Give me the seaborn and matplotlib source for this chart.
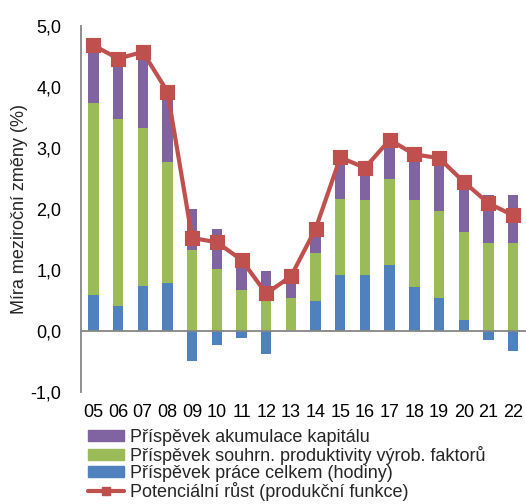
import matplotlib
matplotlib.use("Agg")
import matplotlib.pyplot as plt
import seaborn as sns
from matplotlib.patches import Patch
from matplotlib.lines import Line2D
from matplotlib.ticker import FuncFormatter

# Data
years = ["05", "06", "07", "08", "09", "10", "11", "12", "13",
         "14", "15", "16", "17", "18", "19", "20", "21", "22"]
labor = [0.58, 0.41, 0.74, 0.79, -0.50, -0.23, -0.12, -0.38, 0.00,
         0.49, 0.92, 0.92, 1.07, 0.71, 0.53, 0.17, -0.15, -0.34]
tfp = [3.16, 3.06, 2.59, 1.98, 1.32, 1.01, 0.67, 0.49, 0.54,
       0.79, 1.24, 1.23, 1.41, 1.44, 1.44, 1.45, 1.44, 1.44]
capital = [0.94, 0.99, 1.24, 1.15, 0.68, 0.65, 0.61, 0.49, 0.35,
           0.39, 0.68, 0.52, 0.65, 0.74, 0.86, 0.82, 0.79, 0.78]
potential = [4.68, 4.46, 4.57, 3.92, 1.52, 1.45, 1.16, 0.61, 0.89,
             1.67, 2.84, 2.67, 3.13, 2.89, 2.83, 2.44, 2.09, 1.89]
labels = ["Příspěvek akumulace kapitálu",
          "Příspěvek souhrn. produktivity výrob. faktorů",
          "Příspěvek práce celkem (hodiny)",
          "Potenciální růst (produkční funkce)"]

C_CAP = "#8064A2"
C_TFP = "#9BBB59"
C_LAB = "#4F81BD"
C_POT = "#C0504D"
GRID = "#868686"

sns.set_style("white")
plt.rcParams["font.family"] = ["Liberation Sans", "DejaVu Sans"]
plt.rcParams["font.size"] = 13

# Stack tops: negative labour goes down from zero, the rest stacks up
pos_labor = [max(v, 0) for v in labor]
tfp_top = [b + g for b, g in zip(pos_labor, tfp)]
cap_top = [t + c for t, c in zip(tfp_top, capital)]

fig = plt.figure(figsize=(5.26, 5.04), dpi=100)
ax = fig.add_axes([81 / 526, 1 - 391.7 / 504, 444.5 / 526, 366 / 504])

bar_kw = dict(width=0.42, saturation=1, linewidth=0, ax=ax)
sns.barplot(x=years, y=cap_top, color=C_CAP, **bar_kw)
sns.barplot(x=years, y=tfp_top, color=C_TFP, **bar_kw)
sns.barplot(x=years, y=labor, color=C_LAB, **bar_kw)
sns.pointplot(x=years, y=potential, color=C_POT, markers="s",
              markersize=8.5, linewidth=3, ax=ax)

ax.axhline(0, color=GRID, lw=1.3, zorder=1.5)
ax.set_ylim(-1, 5)
ax.set_xlim(-0.5, len(years) - 0.5)
ax.set_yticks([-1, 0, 1, 2, 3, 4, 5])
ax.yaxis.set_major_formatter(FuncFormatter(lambda v, p: f"{v:.1f}".replace(".", ",")))
ax.tick_params(axis="both", length=0, labelsize=13, colors="black")
ax.tick_params(axis="y", pad=14)
ax.tick_params(axis="x", pad=9)
ax.set_xlabel("")
ax.set_ylabel("Míra meziroční změny (%)", fontsize=13, labelpad=2)

for s in ["top", "right", "bottom"]:
    ax.spines[s].set_visible(False)
ax.spines["left"].set_color(GRID)
ax.spines["left"].set_linewidth(1.3)

handles = [Patch(color=C_CAP), Patch(color=C_TFP), Patch(color=C_LAB),
           Line2D([], [], color=C_POT, lw=3, marker="s", markersize=6)]
fig.legend(handles, labels, loc="upper left",
           bbox_to_anchor=(88 / 526, 1 - 429 / 504), frameon=False,
           fontsize=13, borderpad=0, borderaxespad=0, labelspacing=0.0,
           handlelength=2.0, handleheight=0.5, handletextpad=0.3)

fig.savefig("out.png", dpi=100)
